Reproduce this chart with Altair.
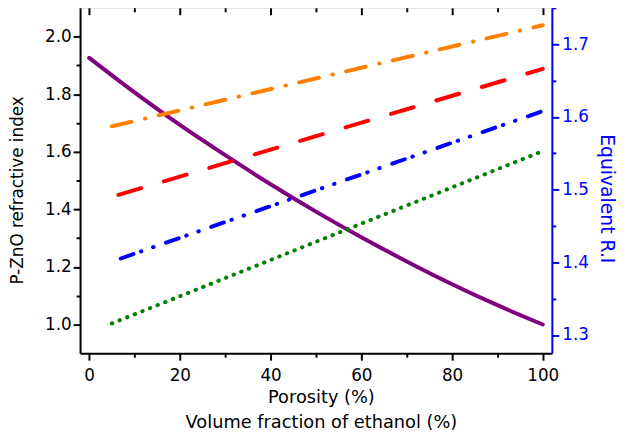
import altair as alt
import pandas as pd

# ---- data ----
porosity = [0, 10, 20, 30, 40, 50, 60, 70, 80, 90, 100]
pzno_index = [1.926, 1.806, 1.693, 1.588, 1.487, 1.392, 1.303, 1.219, 1.140, 1.067, 1.000]

ethanol_fraction = [5, 100]
eq_orange = [1.587, 1.726]
eq_red = [1.490, 1.666]
eq_blue = [1.401, 1.608]
eq_green = [1.316, 1.553]

x_major = [0, 20, 40, 60, 80, 100]
x_minor = [10, 30, 50, 70, 90]
left_major = [1.0, 1.2, 1.4, 1.6, 1.8, 2.0]
left_minor = [1.1, 1.3, 1.5, 1.7, 1.9]
right_major = [1.3, 1.4, 1.5, 1.6, 1.7]
right_minor = [1.35, 1.45, 1.55, 1.65, 1.75]

FONT = "DejaVu Sans"
BLACK = "#000000"
BLUE = "#0000FF"

df_p = pd.DataFrame({"x": porosity, "n": pzno_index})


def line_df(vals):
    return pd.DataFrame({"x": ethanol_fraction, "n": vals})


xscale = alt.Scale(domain=[-2, 102], nice=False, zero=False)
yl = alt.Scale(domain=[0.9, 2.1], nice=False, zero=False)
yr = alt.Scale(domain=[1.275, 1.75], nice=False, zero=False)


def ax(color=BLACK, **kw):
    base = dict(grid=False, domainColor=color, domainWidth=2, tickColor=color,
                tickWidth=2, labelColor=color, labelFont=FONT, labelFontSize=17,
                titleColor=color, titleFont=FONT, titleFontWeight="normal")
    base.update(kw)
    return alt.Axis(**base)


def minor_ax(color=BLACK, **kw):
    base = dict(grid=False, domain=False, labels=False, title=None, tickColor=color,
                tickWidth=2, tickSize=4, offset=0)
    base.update(kw)
    return alt.Axis(**base)


purple = alt.Chart(df_p).mark_line(
    color="#800080", strokeWidth=4, interpolate="monotone", strokeCap="round"
).encode(
    x=alt.X("x:Q", scale=xscale, axis=ax(
        orient="bottom", values=x_major, format="d", tickSize=7, labelPadding=8,
        labelFlush=False, offset=0,
        title=["Porosity (%)", "Volume fraction of ethanol (%)"],
        titleX=244, titleY=50, titleAlign="center", titleBaseline="alphabetic",
        titleLineHeight=25, titleFontSize=18)),
    y=alt.Y("n:Q", scale=yl, axis=ax(
        orient="left", values=left_major, format=".1f", tickSize=7, labelPadding=2,
        offset=0, title="P-ZnO refractive index", titleAngle=270, titleX=-58,
        titleY=184.5, titleAlign="center", titleBaseline="alphabetic",
        titleFontSize=17)),
)

purple_minor = alt.Chart(df_p).mark_line(opacity=0).encode(
    x=alt.X("x:Q", scale=xscale, axis=minor_ax(orient="bottom", values=x_minor)),
    y=alt.Y("n:Q", scale=yl, axis=minor_ax(orient="left", values=left_minor)),
)

orange = alt.Chart(line_df(eq_orange)).mark_line(
    color="#FF8000", strokeWidth=4, strokeCap="round",
    strokeDash=[20.5, 14, 0.5, 13.75]
).encode(
    x=alt.X("x:Q", scale=xscale, axis=minor_ax(orient="top", values=x_major,
                                               tickSize=7, offset=-7)),
    y=alt.Y("n:Q", scale=yr, axis=ax(
        color=BLUE, orient="right", values=right_major, format=".1f", tickSize=7,
        labelPadding=3, offset=0, title="Equivalent R.I", titleAngle=90,
        titleX=49, titleY=193, titleAlign="center", titleBaseline="alphabetic",
        titleFontSize=19)),
)

red = alt.Chart(line_df(eq_red)).mark_line(
    color="#FF0000", strokeWidth=4, strokeCap="round",
    strokeDash=[24, 24], strokeDashOffset=41
).encode(
    x=alt.X("x:Q", scale=xscale, axis=minor_ax(orient="top", values=x_minor, offset=-4)),
    y=alt.Y("n:Q", scale=yr, axis=minor_ax(color=BLUE, orient="right", values=right_minor)),
)

blue = alt.Chart(line_df(eq_blue)).mark_line(
    color=BLUE, strokeWidth=4, strokeCap="round",
    strokeDash=[13.6, 8.1, 0.5, 12.5, 0.5, 13.35], strokeDashOffset=39
).encode(
    x=alt.X("x:Q", scale=xscale, axis=None),
    y=alt.Y("n:Q", scale=yr, axis=None),
)

green = alt.Chart(line_df(eq_green)).mark_line(
    color="#008000", strokeWidth=4, strokeCap="round", strokeDash=[0.5, 7.8]
).encode(
    x=alt.X("x:Q", scale=xscale, axis=None),
    y=alt.Y("n:Q", scale=yr, axis=None),
)

chart = alt.layer(purple, purple_minor, orange, red, blue, green).resolve_scale(
    x="independent", y="independent"
).resolve_axis(
    x="independent", y="independent"
).properties(
    width=478, height=350, autosize="none",
    padding={"left": 73, "top": -3, "right": 67, "bottom": 77},
).configure_view(
    stroke=BLACK, strokeWidth=2
).configure(font=FONT)

chart.save("out.html", embed_options={"renderer": "svg", "actions": False})
